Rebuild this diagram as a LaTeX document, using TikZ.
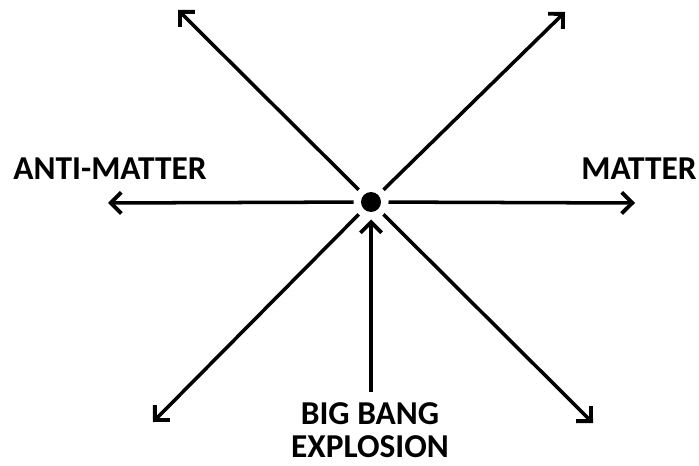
\documentclass[tikz,border=0pt]{standalone}
\usepackage{fontspec}
\setmainfont{Carlito}
\usetikzlibrary{arrows.meta}

\begin{document}
\begin{tikzpicture}[x=0.02cm, y=-0.02cm,
    ray/.style={line width=2pt, -{Straight Barb[length=6pt, width=12pt, line width=2.2pt]}},
    word/.style={font=\fontsize{19}{19}\selectfont\bfseries, align=center}]
    \useasboundingbox (0,0) rectangle (699,466);

    % Draw nodes
    \node[circle, fill=black, minimum size=0.4cm, inner sep=0pt, outer sep=0.15cm] (bang) at (371,202) {};
    \node[word] (anti) at (110,169) {ANTI-MATTER};
    \node[word] (matter) at (639,169) {MATTER};
    \node[word] (explosion) at (370,430) {BIG BANG\\EXPLOSION};

    % Ray ends
    \coordinate (ul) at (178,10);
    \coordinate (ur) at (565,12);
    \coordinate (dl) at (153,422);
    \coordinate (dr) at (593,423);
    \coordinate (le) at (108,203);
    \coordinate (ri) at (635,203);
    \coordinate (foot) at (371,392);

    % Draw connections
    \draw[ray] (bang) -- (ul);
    \draw[ray] (bang) -- (ur);
    \draw[ray] (bang) -- (dl);
    \draw[ray] (bang) -- (dr);
    \draw[ray] (bang) -- (le);
    \draw[ray] (bang) -- (ri);
    \draw[ray] (foot) -- (bang);
\end{tikzpicture}
\end{document}
